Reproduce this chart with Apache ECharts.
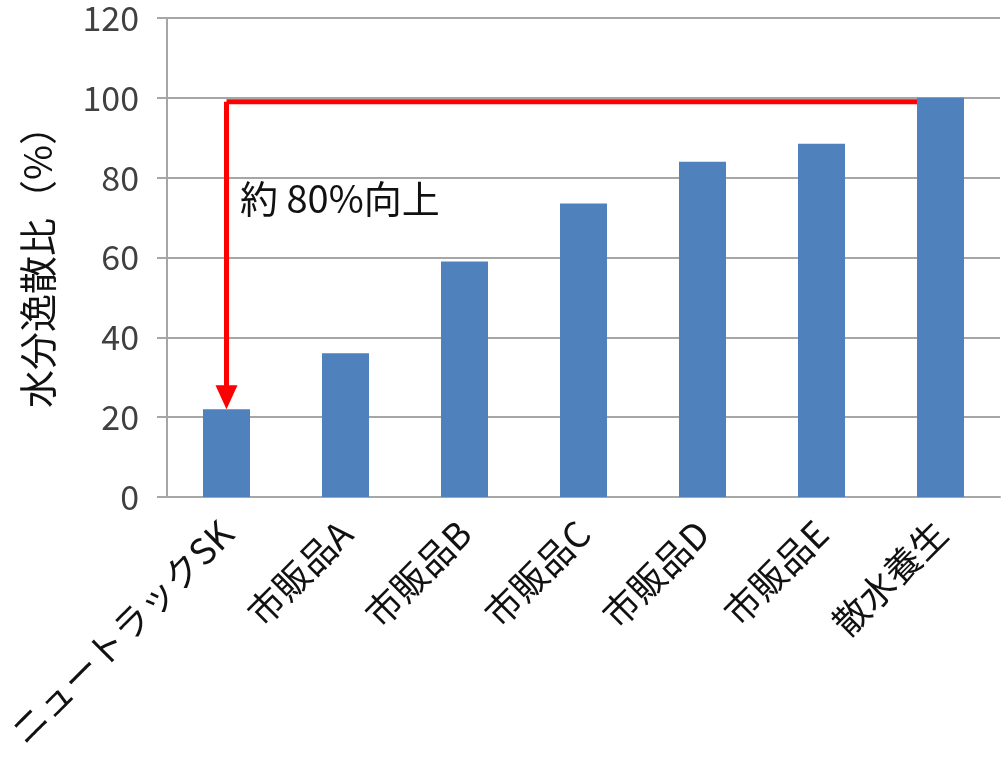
<!DOCTYPE html>
<html>
<head>
<meta charset="utf-8">
<script src="https://cdn.jsdelivr.net/npm/echarts@6/dist/echarts.min.js"></script>
<style>html,body{margin:0;padding:0;background:#fff}#c{width:1004px;height:767px}</style>
</head>
<body>
<div id="c"></div>
<script>
const categories = ['ニュートラックSK', '市販品A', '市販品B', '市販品C', '市販品D', '市販品E', '散水養生'];
const values = [22, 36, 59, 73.5, 84, 88.5, 100];
const yTicks = { min: 0, max: 120, interval: 20 };
const arrowTop = 99;
const arrowBottom = 25;
const annotation = '約 80%向上';
const yTitle = '水分逸散比（%）';

const FONT = '"Noto Sans CJK JP", "Noto Sans", sans-serif';
const chart = echarts.init(document.getElementById('c'), null, { renderer: 'canvas' });
chart.setOption({
  animation: false,
  backgroundColor: '#ffffff',
  grid: { left: 167, right: 4, top: 18, bottom: 270, containLabel: false },
  xAxis: {
    type: 'category',
    data: categories,
    axisLine: { show: true, lineStyle: { color: '#a6a6a6', width: 2 } },
    axisTick: { show: false },
    axisLabel: { rotate: 45, interval: 0, margin: 30, color: '#111', fontSize: 36, fontFamily: FONT }
  },
  yAxis: {
    type: 'value',
    min: yTicks.min, max: yTicks.max, interval: yTicks.interval,
    name: yTitle,
    nameLocation: 'middle',
    nameGap: 110,
    nameRotate: 90,
    nameTextStyle: { color: '#111', fontSize: 38, fontFamily: FONT },
    axisLine: { show: true, lineStyle: { color: '#a6a6a6', width: 2 } },
    axisTick: { show: true, length: 10, lineStyle: { color: '#a6a6a6', width: 2 } },
    axisLabel: { margin: 28, color: '#404040', fontSize: 34, fontFamily: FONT },
    splitLine: { show: true, lineStyle: { color: '#a6a6a6', width: 2 } }
  },
  series: [
    {
      type: 'line',
      z: 1,
      data: categories.map(() => arrowTop),
      showSymbol: false,
      symbol: 'none',
      lineStyle: { color: '#ff0000', width: 5 },
      silent: true
    },
    {
      type: 'bar',
      z: 2,
      data: values,
      barWidth: 47,
      itemStyle: { color: '#4f81bd' },
      markLine: {
        silent: true,
        symbol: ['none', 'triangle'],
        symbolSize: [22, 24],
        label: { show: false },
        lineStyle: { color: '#ff0000', width: 5, type: 'solid' },
        data: [
          [ { coord: [categories[0], arrowTop] }, { coord: [categories[0], arrowBottom] } ]
        ]
      }
    }
  ],
  graphic: [
    {
      type: 'text',
      left: 240,
      top: 180,
      style: { text: annotation, fill: '#111', font: '38px ' + FONT }
    }
  ]
});
</script>
</body>
</html>
